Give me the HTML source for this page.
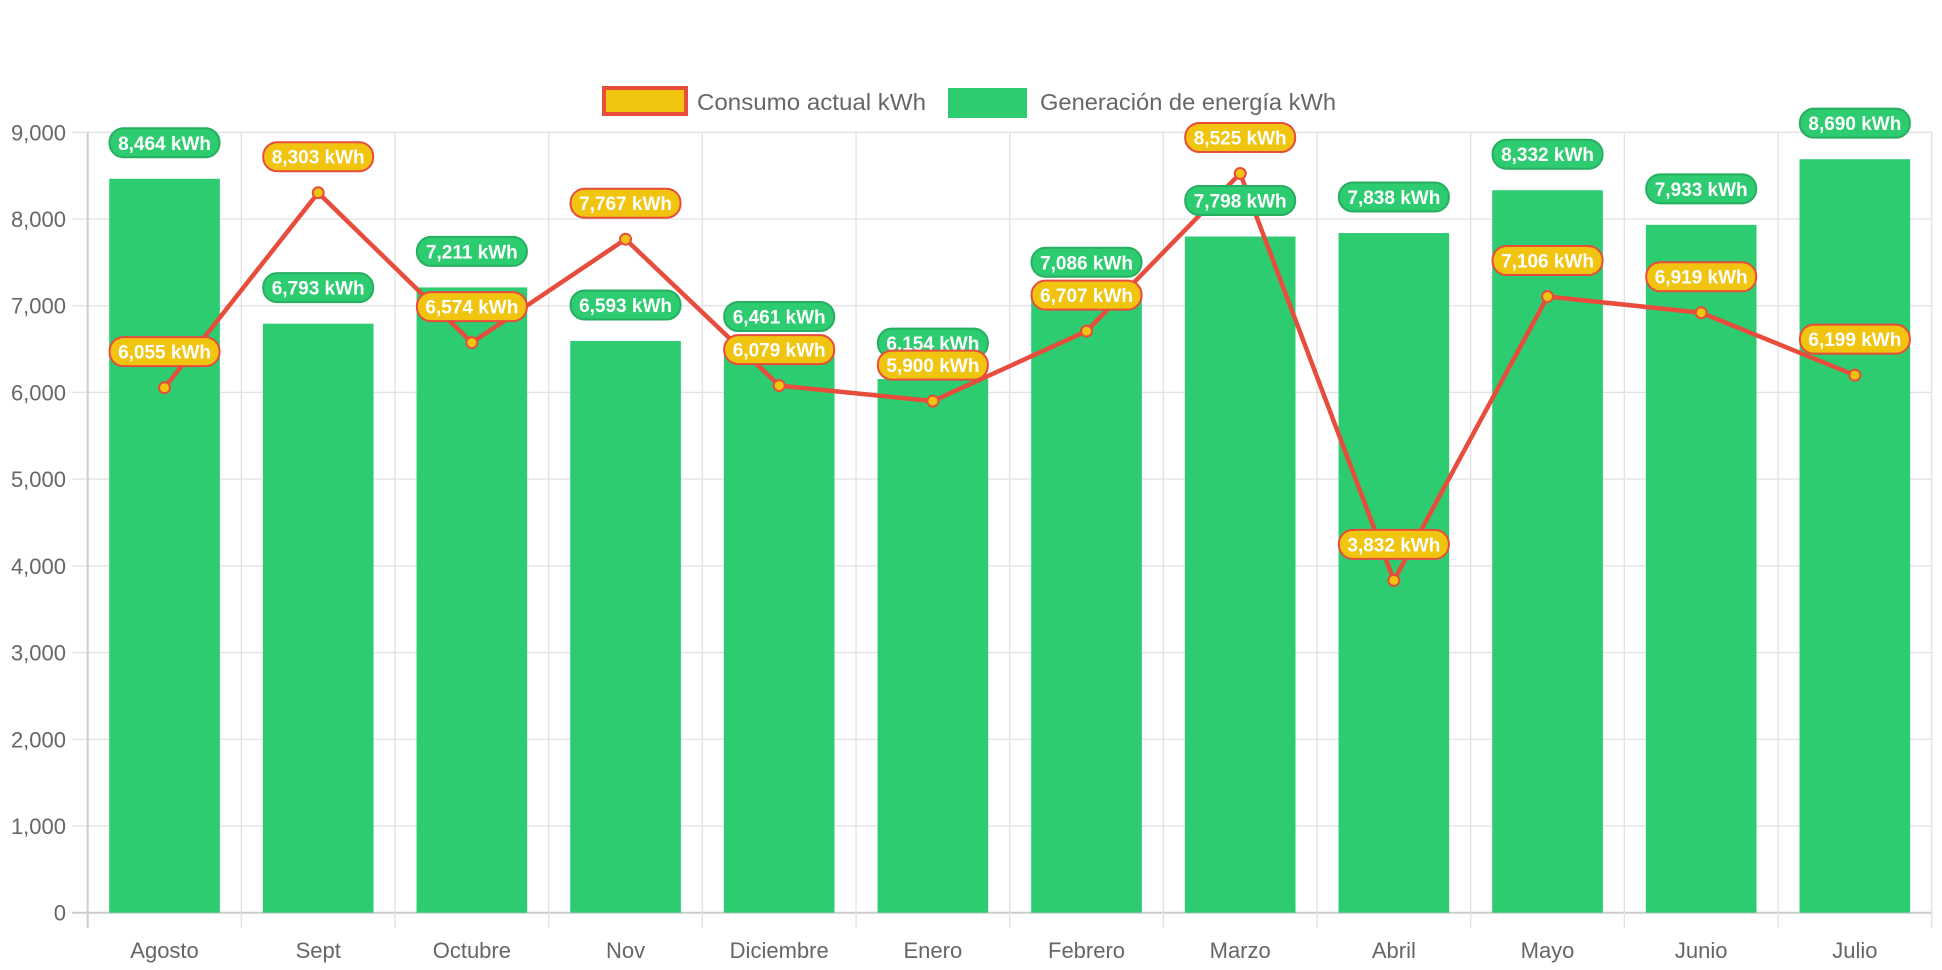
<!DOCTYPE html>
<html><head><meta charset="utf-8"><style>
html,body{margin:0;padding:0;background:#fff;}
svg{display:block;font-family:"Liberation Sans",Arial,sans-serif;}
</style></head><body>
<svg id="chart" width="1942" height="970" viewBox="0 0 1942 970" xmlns="http://www.w3.org/2000/svg">
<g id="legend">
 <g>
  <rect x="604" y="88" width="82" height="26" fill="#f1c40f" stroke="#e74c3c" stroke-width="4"/>
  <text x="697" y="110" font-size="23" fill="#666" textLength="229" lengthAdjust="spacingAndGlyphs">Consumo actual kWh</text>
 </g>
 <g>
  <rect x="948" y="88" width="79" height="30" fill="#2ecc71"/>
  <text x="1040" y="110" font-size="23" fill="#666" textLength="296" lengthAdjust="spacingAndGlyphs">Generación de energía kWh</text>
 </g>
</g>
<g id="grid"></g><g id="bars"></g><g id="line"></g><g id="labels"></g>
</svg>
<script>
const categories=["Agosto","Sept","Octubre","Nov","Diciembre","Enero","Febrero","Marzo","Abril","Mayo","Junio","Julio"];
const generacion=[8464,6793,7211,6593,6461,6154,7086,7798,7838,8332,7933,8690];
const consumo=[6055,8303,6574,7767,6079,5900,6707,8525,3832,7106,6919,6199];
const yTicks=[0,1000,2000,3000,4000,5000,6000,7000,8000,9000];
const NS="http://www.w3.org/2000/svg";
const L=87.7,R=1931.7,T=132.3,B=912.7,YMAX=9000;
const cw=(R-L)/categories.length;
const y=v=>B-(v/YMAX)*(B-T);
const xc=i=>L+cw*(i+0.5);
function mk(tag,attrs,parent){const e=document.createElementNS(NS,tag);for(const k in attrs)e.setAttribute(k,attrs[k]);parent.appendChild(e);return e;}
const grid=document.getElementById('grid'),bars=document.getElementById('bars'),line=document.getElementById('line'),labels=document.getElementById('labels');
const fmt=v=>v.toLocaleString('en-US');
yTicks.forEach(t=>{
 const g=mk('line',{x1:72,x2:R,y1:y(t),y2:y(t),stroke:t===0?'#ccc':'#e2e2e2','stroke-width':t===0?2:1.3},grid);
 
 
 const tx=mk('text',{x:66,y:y(t)+8,'text-anchor':'end','font-size':22,fill:'#666'},grid);
 tx.textContent=fmt(t);
 
 
});
for(let i=0;i<=categories.length;i++){
 const vx=L+cw*i;
 const g=mk('line',{x1:vx,x2:vx,y1:T,y2:928,stroke:i===0?'#ccc':'#e2e2e2','stroke-width':i===0?2:1.3},grid);
 
 
}
categories.forEach((c,i)=>{
 const tx=mk('text',{x:xc(i),y:958,'text-anchor':'middle','font-size':22,fill:'#666'},grid);
 tx.textContent=c;
 
 
});
const bw=cw*0.72;
generacion.forEach((v,i)=>{
 const r=mk('rect',{x:xc(i)-bw/2,y:y(v),width:bw,height:B-y(v),fill:'#2ecc71'},bars);
 
 
});
const pts=consumo.map((v,i)=>xc(i)+','+y(v)).join(' ');
const pl=mk('polyline',{points:pts,fill:'none',stroke:'#e74c3c','stroke-width':4.5,'stroke-linejoin':'round'},line);


consumo.forEach((v,i)=>{
 const c=mk('circle',{cx:xc(i),cy:y(v),r:5.5,fill:'#f1c40f',stroke:'#e74c3c','stroke-width':2},line);
 
 
});
function pill(v,i,fill,stroke,name){
 const cy=y(v)-36;
 const g=mk('g',{},labels);
 
 
 mk('rect',{x:xc(i)-55,y:cy-14.5,width:110,height:29,rx:14,ry:14,fill:fill,stroke:stroke,'stroke-width':2},g);
 const t=mk('text',{x:xc(i),y:cy+7,'text-anchor':'middle','font-size':19,'font-weight':'bold',fill:'#fff'},g);
 t.textContent=fmt(v)+' kWh';
}
generacion.forEach((v,i)=>pill(v,i,'#2ecc71','#27ae60','label-generacion'));
consumo.forEach((v,i)=>pill(v,i,'#f1c40f','#e74c3c','label-consumo'));
</script>
</body></html>
